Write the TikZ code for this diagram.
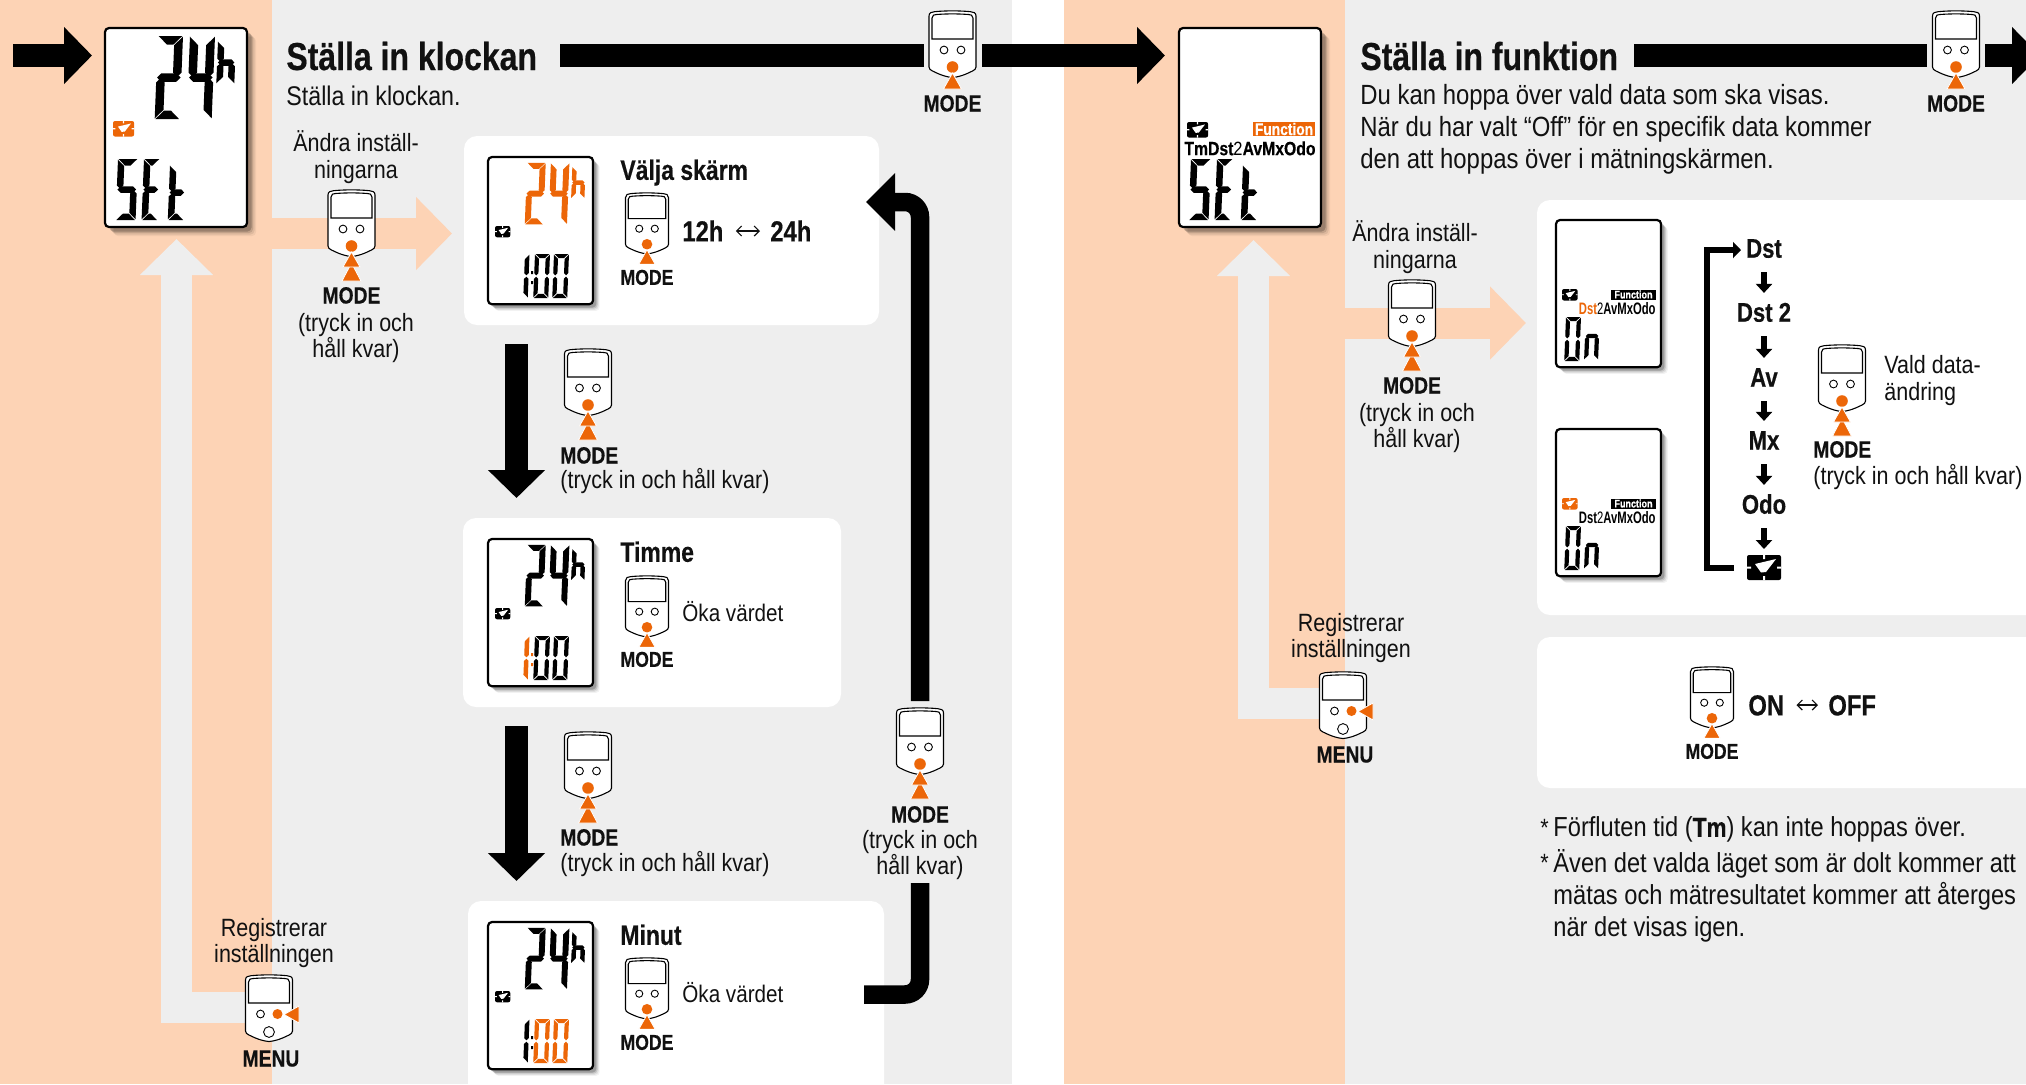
\documentclass[tikz,border=0pt]{standalone}
\usepackage{fontspec}
\setmainfont{Liberation Sans}[FakeStretch=0.86,BoldFeatures={FakeStretch=0.82,FakeBold=0.4}]
\newfontfamily\lcdfont{Liberation Sans}[FakeStretch=0.68,BoldFeatures={FakeStretch=0.68}]
\usetikzlibrary{arrows.meta}
\definecolor{peach}{HTML}{FDD3B5}
\definecolor{panelgray}{HTML}{EEEEEE}
\definecolor{accent}{HTML}{EC6608}
\definecolor{ink}{HTML}{111111}
\tikzset{
  x=0.5pt,y=-0.5pt,
  txt/.style={inner sep=0pt,text=ink,text height=8.5pt,text depth=0pt},
  mline/.style={inner sep=0pt,text=ink,align=center,font=\fontsize{12.5}{13.4}\selectfont},
  modelbl/.style={txt,font=\bfseries\fontsize{11.75}{13}\selectfont},
  boxtitle/.style={txt,anchor=west,text height=9.8pt,font=\bfseries\fontsize{14}{15}\selectfont},
  bigtitle/.style={txt,anchor=west,text height=14pt,font=\bfseries\fontsize{19.5}{20}\selectfont},
  chain/.style={txt,text height=9.7pt,font=\bfseries\fontsize{13.5}{14}\selectfont},
  valbold/.style={txt,anchor=west,text height=10.4pt,font=\bfseries\fontsize{14.5}{15}\selectfont},
  bodyt/.style={txt,anchor=west,text height=9pt,font=\fontsize{12.5}{13}\selectfont},
  whitebox/.style={fill=white,rounded corners=6.5pt},
  devline/.style={draw=black,line width=.55pt},
  blackarrow/.style={draw=black,line width=11.5pt,-{Triangle[length=14pt,width=27.75pt]}},
  blackbar/.style={draw=black,line width=11.5pt},
  loopbar/.style={draw=black,line width=9.25pt,rounded corners=7.5pt},
  looparrow/.style={draw=black,line width=9.25pt,rounded corners=7.5pt,-{Triangle[length=14.5pt,width=28pt]}},
  softarrow/.style={line width=15.5pt,-{Triangle[length=18pt,width=35.5pt]}},
  tinyarrow/.style={draw=black,line width=3.25pt,-{Triangle[length=4pt,width=8pt]}},
  thinarrow/.style={draw=black,line width=3.25pt,-{Triangle[length=4.5pt,width=8pt]}},
  dblarrow/.style={draw=ink,line width=.6pt,{Straight Barb[length=2.5pt,width=5pt]}-{Straight Barb[length=2.5pt,width=5pt]}},
  devsingle/.pic={\devshape
    \draw[devline,line width=.45pt] (-8.5,39) circle[radius=3.9] (8.5,39) circle[radius=3.9];
    \fill[accent] (0,56) circle[radius=5.8];
    \filldraw[fill=accent,draw=white,line width=.4pt] (0,62) -- (9,78) -- (-9,78) -- cycle;},
  devdouble/.pic={\devshape
    \draw[devline,line width=.45pt] (-8.5,39) circle[radius=3.9] (8.5,39) circle[radius=3.9];
    \fill[accent] (0,56) circle[radius=5.8];
    \filldraw[fill=accent,draw=white,line width=.4pt] (0,73) -- (9.5,91) -- (-9.5,91) -- cycle;
    \filldraw[fill=accent,draw=white,line width=.4pt] (0,62) -- (8.5,77) -- (-8.5,77) -- cycle;},
  devmenu/.pic={\devshape
    \draw[devline,line width=.45pt] (-8.5,39) circle[radius=3.9] (0,57) circle[radius=5.4];
    \fill[accent] (8.5,39) circle[radius=5];
    \filldraw[fill=accent,draw=white,line width=.4pt] (15,39.5) -- (30,31) -- (30,48) -- cycle;},
}
\newcommand{\devshape}{%
  \filldraw[devline,fill=white] (-23.5,5) .. controls (-23.5,1.5) and (-21,1) .. (-18,.7) .. controls (-8,-.4) and (8,-.4) .. (18,.7) .. controls (21,1) and (23.5,1.5) .. (23.5,5) -- (23.5,56) .. controls (23.5,58) and (22,59) .. (20,60) .. controls (10,65) and (5,66) .. (0,66.5) .. controls (-5,66) and (-10,65) .. (-20,60) .. controls (-22,59) and (-23.5,58) .. (-23.5,56) -- cycle;
  \draw[devline] (-20.5,28) -- (-20.5,7) .. controls (-20.5,4) and (-18,3.5) .. (-16,3.5) .. controls (-6,2.7) and (6,2.7) .. (16,3.5) .. controls (18,3.5) and (20.5,4) .. (20.5,7) -- (20.5,28) -- cycle;}
% seven-segment parts
\def\segpa#1{\fill[#1] (\sG,0)--({\sW-\sG},0)--({\sW-\sG-\sT},\sT)--({\sG+\sT},\sT)--cycle;}
\def\segpd#1{\fill[#1] (\sG,\sH)--({\sW-\sG},\sH)--({\sW-\sG-\sT},{\sH-\sT})--({\sG+\sT},{\sH-\sT})--cycle;}
\def\segpf#1{\fill[#1] (0,\sG)--(\sT,{\sG+\sT})--(\sT,{\sH/2-\sG-\sT/2})--({\sT/2},{\sH/2-\sG})--(0,{\sH/2-\sG-\sT/2})--cycle;}
\def\segpb#1{\fill[#1] (\sW,\sG)--({\sW-\sT},{\sG+\sT})--({\sW-\sT},{\sH/2-\sG-\sT/2})--({\sW-\sT/2},{\sH/2-\sG})--(\sW,{\sH/2-\sG-\sT/2})--cycle;}
\def\segpe#1{\fill[#1] (0,{\sH-\sG})--(\sT,{\sH-\sG-\sT})--(\sT,{\sH/2+\sG+\sT/2})--({\sT/2},{\sH/2+\sG})--(0,{\sH/2+\sG+\sT/2})--cycle;}
\def\segpc#1{\fill[#1] (\sW,{\sH-\sG})--({\sW-\sT},{\sH-\sG-\sT})--({\sW-\sT},{\sH/2+\sG+\sT/2})--({\sW-\sT/2},{\sH/2+\sG})--(\sW,{\sH/2+\sG+\sT/2})--cycle;}
\def\segpg#1{\fill[#1] (\sG,{\sH/2})--({\sG+\sT/2},{\sH/2-\sT/2})--({\sW-\sG-\sT/2},{\sH/2-\sT/2})--({\sW-\sG},{\sH/2})--({\sW-\sG-\sT/2},{\sH/2+\sT/2})--({\sG+\sT/2},{\sH/2+\sT/2})--cycle;}
\newcommand{\sevseg}[7]{% x y W H T segments colour
  \begin{scope}[shift={(#1,#2)},xslant=0.04]
    \def\sW{#3}\def\sH{#4}\def\sT{#5}\def\sG{0.7}
    \foreach \s in {#6}{\csname segp\s\endcsname{#7}}
  \end{scope}}
\newcommand{\clockic}[4]{% x y scale colour
  \begin{scope}[shift={(#1,#2)},scale=#3]
    \fill[#4,rounded corners=1pt] (0,0) rectangle (34,25);
    \fill[white] (16,0) rectangle (18,4) (16,21) rectangle (18,25) (0,11.5) rectangle (4,13.5) (30,11.5) rectangle (34,13.5);
    \fill[white] (8,9) -- (29,4) -- (19,17) -- (14,17.5) -- cycle;
  \end{scope}}
\newcommand{\lcdframe}[3]{% x y scale
  \begin{scope}[shift={(#1,#2)},scale=#3]
    \foreach \oo/\pp in {9/.05,7.5/.08,6/.12,4.5/.2}{\fill[black,opacity=\pp,rounded corners=2pt] (\oo,\oo) rectangle ({142+\oo},{199+\oo});}
    \filldraw[fill=white,draw=black,line width=1.1pt,rounded corners=2pt] (0,0) rectangle (142,199);
  \end{scope}}
\newcommand{\hourtop}[3]{% x y colour, LCD origin, at .74
  \begin{scope}[shift={(#1,#2)},scale=.74]
    \sevseg{53}{8}{25}{83}{8}{a,b,g,e,d}{#3}
    \sevseg{85}{8}{25}{83}{8}{f,b,g,c}{#3}
    \sevseg{114}{13}{18}{43}{6}{f,e,g,c}{#3}
  \end{scope}}
\newcommand{\hundred}[4]{% x y colour-one colour-zero
  \sevseg{#1+37}{#2+97}{4.5}{44}{4.5}{b,c}{#3}
  \fill[#3] ({#1+43},{#2+114}) rectangle +(2,3) ({#1+43},{#2+124}) rectangle +(2,3);
  \sevseg{#1+47}{#2+97}{15}{44}{4.2}{a,b,c,d,e,f}{#4}
  \sevseg{#1+66}{#2+97}{15}{44}{4.2}{a,b,c,d,e,f}{#4}}
\newcommand{\setword}[2]{% x y of S, big
  \sevseg{#1}{#2}{20}{61}{6.5}{a,f,g,c,d}{black}
  \sevseg{#1+26}{#2}{16}{61}{6.5}{a,f,g,e,d}{black}
  \sevseg{#1+52}{#2+6}{16}{55}{6.5}{f,e,g,d}{black}}
\newcommand{\onword}[2]{% x y of small LCD origin
  \sevseg{#1+10}{#2+97}{15}{44}{4.2}{a,b,c,d,e,f}{black}
  \sevseg{#1+30}{#2+92}{14}{48}{4.2}{g,e,c}{black}}
\begin{document}
\begin{tikzpicture}
\useasboundingbox (0,0) rectangle (2026,1084);
\clip (0,0) rectangle (2026,1084);
% panels
\fill[white] (0,0) rectangle (2026,1084);
\fill[peach] (0,0) rectangle (272,1084);
\fill[panelgray] (272,0) rectangle (1012,1084);
\fill[peach] (1064,0) rectangle (1345,1084);
\fill[panelgray] (1345,0) rectangle (2026,1084);
% endpoints of the block connectors
\coordinate (a1s) at (13,55.5); \coordinate (a1e) at (92,55.5);
\coordinate (t1s) at (560,55.5); \coordinate (t1e) at (924,55.5);
\coordinate (t1bs) at (982,55.5); \coordinate (t1be) at (1165,55.5);
\coordinate (t2s) at (1634,55.5); \coordinate (t2e) at (1927,55.5);
\coordinate (t2bs) at (1985,55.5); \coordinate (t2be) at (2040,55.5);
\coordinate (pa1s) at (272,233.5); \coordinate (pa1e) at (452,233.5);
\coordinate (pa2s) at (1345,323); \coordinate (pa2e) at (1526,323);
\coordinate (ga1s) at (272,1007.5); \coordinate (ga1c) at (176.5,1007.5); \coordinate (ga1e) at (176.5,239);
\coordinate (ga2s) at (1345,703.5); \coordinate (ga2c) at (1253.5,703.5); \coordinate (ga2e) at (1253.5,240);
\coordinate (d1s) at (516.5,344); \coordinate (d1e) at (516.5,498);
\coordinate (d2s) at (516.5,726); \coordinate (d2e) at (516.5,881);
\coordinate (r1s) at (864,994.5); \coordinate (r1c) at (920,994.5); \coordinate (r1e) at (920,883);
\coordinate (r2s) at (920,701); \coordinate (r2c) at (920,202); \coordinate (r2e) at (866,202);
\coordinate (l1s) at (1734,568); \coordinate (l1c) at (1707,568); \coordinate (l1d) at (1707,250); \coordinate (l1e) at (1741,250);
% soft arrows
\draw[softarrow,draw=peach] (pa1s) -- (pa1e);
\draw[softarrow,draw=peach] (pa2s) -- (pa2e);
\draw[softarrow,draw=panelgray] (ga1s) -- (ga1c) -- (ga1e);
\draw[softarrow,draw=panelgray] (ga2s) -- (ga2c) -- (ga2e);
% white boxes
\fill[whitebox] (464,136) rectangle (879,325);
\fill[whitebox] (463,518) rectangle (841,707);
\fill[whitebox] (468,901) rectangle (884,1120);
\fill[whitebox] (1537,200) rectangle (2060,615);
\fill[whitebox] (1537,637) rectangle (2060,788);
% black arrows
\draw[blackarrow] (a1s) -- (a1e);
\draw[blackbar] (t1s) -- (t1e);
\draw[blackarrow] (t1bs) -- (t1be);
\draw[blackbar] (t2s) -- (t2e);
\draw[blackarrow] (t2bs) -- (t2be);
\draw[blackarrow] (d1s) -- (d1e);
\draw[blackarrow] (d2s) -- (d2e);
\draw[loopbar] (r1s) -- (r1c) -- (r1e);
\draw[looparrow] (r2s) -- (r2c) -- (r2e);
% big LCD, left
\lcdframe{105}{28}{1}
\sevseg{158}{36}{25}{83}{8.5}{a,b,g,e,d}{black}
\sevseg{190}{36}{25}{83}{8.5}{f,b,g,c}{black}
\sevseg{218}{41}{18}{43}{6.5}{f,e,g,c}{black}
\clockic{113}{121}{.62}{accent}
\setword{118}{159}
% big LCD, right
\lcdframe{1179}{28}{1}
\clockic{1187}{122}{.62}{black}
\node[fill=accent,text=white,inner sep=0pt,minimum width=31pt,minimum height=7pt,font=\bfseries\fontsize{8.4}{9}\selectfont] (fn0) at (1284,129) {Function};
\node[txt,text=black,text height=7.2pt,font=\bfseries\fontsize{9.6}{11}\selectfont] (lcdline0) at (1250,148) {TmDst{\mdseries 2}AvMxOdo};
\setword{1191}{159}
% titles and texts, left panel
\node[bigtitle] (title1) at (286,56) {Ställa in klockan};
\node[bodyt,font=\fontsize{13.5}{14}\selectfont,text height=9.7pt] (sub1) at (286,96) {Ställa in klockan.};
\node[mline] (chg1) at (356,157) {Ändra inställ-\\ningarna};
\pic at (351.5,190) {devdouble};
\node[modelbl] (m1) at (351.5,295) {MODE};
\node[mline] (hold1) at (356,338) {(tryck in och\\håll kvar)};
\pic at (952.5,11) {devsingle};
\node[modelbl] (mt1) at (952.5,103) {MODE};
\node[mline] (reg1) at (274,943) {Registrerar\\inställningen};
\pic at (269,975) {devmenu};
\node[modelbl] (menu1) at (271,1058) {MENU};
% box 1
\lcdframe{488}{157}{.74}
\hourtop{488}{157}{accent}
\clockic{495}{226}{.45}{black}
\hundred{488}{157}{black}{black}
\node[boxtitle] (b1t) at (620,170) {Välja skärm};
\pic[scale=.915] at (647,193) {devsingle};
\node[modelbl,font=\bfseries\fontsize{10.75}{12}\selectfont,text height=7.8pt] (b1m) at (647,277) {MODE};
\node[valbold] (h12) at (682,231) {12h};
\node[valbold] (h24) at (770,231) {24h};
\draw[dblarrow,shorten <=6pt,shorten >=5pt] (h12.east) -- (h24.west);
% step 1
\pic at (588,349) {devdouble};
\node[modelbl,anchor=west] (s1m) at (560,455) {MODE};
\node[bodyt] (s1h) at (560,479) {(tryck in och håll kvar)};
% box 2
\lcdframe{488}{539}{.74}
\hourtop{488}{539}{black}
\clockic{495}{608}{.45}{black}
\hundred{488}{539}{accent}{black}
\node[boxtitle] (b2t) at (620,552) {Timme};
\pic[scale=.915] at (647,576) {devsingle};
\node[modelbl,font=\bfseries\fontsize{10.75}{12}\selectfont,text height=7.8pt] (b2m) at (647,659) {MODE};
\node[bodyt,font=\fontsize{12}{13}\selectfont] (b2v) at (682,612.5) {Öka värdet};
% step 2
\pic at (588,732) {devdouble};
\node[modelbl,anchor=west] (s2m) at (560,837) {MODE};
\node[bodyt] (s2h) at (560,862) {(tryck in och håll kvar)};
% box 3
\lcdframe{488}{922}{.74}
\hourtop{488}{922}{black}
\clockic{495}{991}{.45}{black}
\hundred{488}{922}{black}{accent}
\node[boxtitle] (b3t) at (620,935) {Minut};
\pic[scale=.915] at (647,958) {devsingle};
\node[modelbl,font=\bfseries\fontsize{10.75}{12}\selectfont,text height=7.8pt] (b3m) at (647,1042) {MODE};
\node[bodyt,font=\fontsize{12}{13}\selectfont] (b3v) at (682,993.5) {Öka värdet};
% return device
\pic at (920,708) {devdouble};
\node[modelbl] (rm) at (920,814) {MODE};
\node[mline] (rh) at (920,855) {(tryck in och\\håll kvar)};
% right panel
\node[bigtitle] (title2) at (1360,56) {Ställa in funktion};
\node[inner sep=0pt,text=ink,align=left,anchor=north west,font=\fontsize{13.9}{15.9}\selectfont] (sub2) at (1360,84) {Du kan hoppa över vald data som ska visas.\\När du har valt “Off” för en specifik data kommer\\den att hoppas över i mätningskärmen.};
\pic at (1956,11) {devsingle};
\node[modelbl] (mt2) at (1956,103) {MODE};
\node[mline] (chg2) at (1415,247) {Ändra inställ-\\ningarna};
\pic at (1412,280) {devdouble};
\node[modelbl] (m2) at (1412,385) {MODE};
\node[mline] (hold2) at (1417,428) {(tryck in och\\håll kvar)};
\node[mline] (reg2) at (1351,638) {Registrerar\\inställningen};
\pic at (1343,672) {devmenu};
\node[modelbl] (menu2) at (1345,754) {MENU};
% small LCDs, right
\lcdframe{1556}{220}{.74}
\clockic{1562}{289}{.46}{black}
\node[fill=black,text=white,inner sep=0pt,minimum width=22.5pt,minimum height=5pt,font=\bfseries\fontsize{5.5}{6}\selectfont] (fn1) at (1633.5,294.5) {Function};
\node[txt,text=black,text height=6pt,font=\lcdfont\bfseries\fontsize{8.3}{9}\selectfont,anchor=east] (lcdline1) at (1656,308) {\textcolor{accent}{Dst}{\mdseries 2}AvMxOdo};
\onword{1556}{220}
\lcdframe{1556}{429}{.74}
\clockic{1562}{498}{.46}{accent}
\node[fill=black,text=white,inner sep=0pt,minimum width=22.5pt,minimum height=5pt,font=\bfseries\fontsize{5.5}{6}\selectfont] (fn2) at (1633.5,503.5) {Function};
\node[txt,text=black,text height=6pt,font=\lcdfont\bfseries\fontsize{8.3}{9}\selectfont,anchor=east] (lcdline2) at (1656,517) {Dst{\mdseries 2}AvMxOdo};
\onword{1556}{429}
% chain
\node[chain] (c1) at (1764,248) {Dst};
\node[chain] (c2) at (1764,312) {Dst 2};
\node[chain] (c3) at (1764,377) {Av};
\node[chain] (c4) at (1764,440) {Mx};
\node[chain] (c5) at (1764,504) {Odo};
\coordinate (c6) at (1764,556);
\clockic{1747}{555}{1}{black}
\draw[thinarrow,shorten <=7pt,shorten >=4.5pt] (c1.south) -- (c2.north);
\draw[thinarrow,shorten <=7pt,shorten >=4.5pt] (c2.south) -- (c3.north);
\draw[thinarrow,shorten <=7pt,shorten >=4.5pt] (c3.south) -- (c4.north);
\draw[thinarrow,shorten <=7pt,shorten >=4.5pt] (c4.south) -- (c5.north);
\draw[thinarrow,shorten <=7pt,shorten >=3.5pt] (c5.south) -- (c6);
\draw[tinyarrow] (l1s) -- (l1c) -- (l1d) -- (l1e);
\pic at (1842,345) {devdouble};
\node[modelbl,anchor=west] (vm) at (1813,449) {MODE};
\node[bodyt] (vh) at (1813,475) {(tryck in och håll kvar)};
\node[inner sep=0pt,text=ink,align=left,anchor=west,font=\fontsize{12.5}{13.5}\selectfont] (vald) at (1884,381) {Vald data-\\ändring};
% on off
\pic[scale=.915] at (1712,667) {devsingle};
\node[modelbl,font=\bfseries\fontsize{10.75}{12}\selectfont,text height=7.8pt] (om) at (1712,751) {MODE};
\node[valbold] (on) at (1748,705) {ON};
\node[valbold] (off) at (1828,705) {OFF};
\draw[dblarrow,shorten <=6pt,shorten >=5pt] (on.east) -- (off.west);
% footnotes
\node[bodyt] (st1) at (1540,827) {*};
\node[bodyt,font=\fontsize{13.75}{15}\selectfont,text height=9.9pt] (fn3) at (1553,827) {Förfluten tid (\textbf{Tm}) kan inte hoppas över.};
\node[bodyt] (st2) at (1540,862) {*};
\node[inner sep=0pt,text=ink,align=left,anchor=north west,font=\fontsize{13.75}{16}\selectfont] (fn4) at (1553,849) {Även det valda läget som är dolt kommer att\\mätas och mätresultatet kommer att återges\\när det visas igen.};
\end{tikzpicture}
\end{document}
